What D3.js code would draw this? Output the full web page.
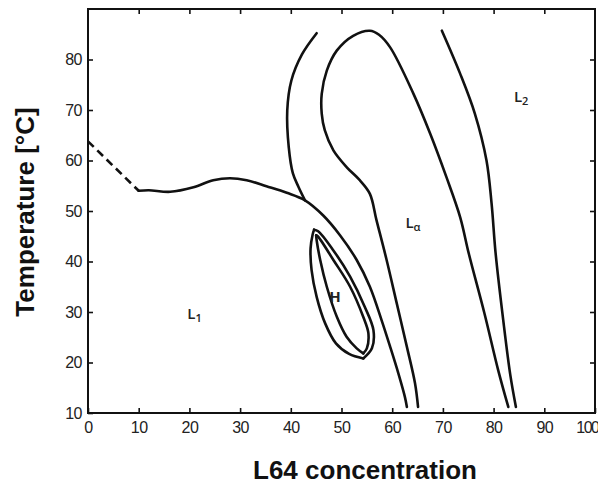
<!DOCTYPE html>
<html>
<head>
<meta charset="utf-8">
<script src="https://cdn.jsdelivr.net/npm/d3@7"></script>
<style>
  body { margin: 0; background: #fff; }
  svg { display: block; }
  .tick text { font-family: "Liberation Sans", Arial, sans-serif; font-size: 16px; fill: #222; letter-spacing: -0.5px; }
  .tick line { stroke: #111; stroke-width: 1.6; }
  .phase { fill: none; stroke: #111; stroke-width: 2.6; stroke-linejoin: round; stroke-linecap: round; }
  .region { font-family: "Open Sans", sans-serif; font-size: 15px; font-weight: 600; fill: #222; }
  .title { font-family: "Liberation Sans", Arial, sans-serif; font-size: 26px; font-weight: bold; fill: #111; }
</style>
</head>
<body>
<svg id="chart" width="598" height="484"></svg>
<script>
// axis ticks
const xTicks = [0, 10, 20, 30, 40, 50, 60, 70, 80, 90, 100];
const yTicks = [10, 20, 30, 40, 50, 60, 70, 80];
const topTicks = [10, 20, 30, 40, 50, 60, 70, 80, 90];
const rightTicks = [20, 30, 40, 50, 60, 70, 80];

// phase boundaries, [L64 %, T °C]
const dashedBoundary = [[0, 63.8], [10, 54]];
const l1Boundary = [[10, 54], [12, 54.1], [16.2, 53.8], [20.8, 54.7], [24.7, 56.1], [28, 56.5], [31.3, 56.1],
  [35.2, 54.9], [39.2, 53.6], [42.8, 52.1], [46.4, 49.1], [49.7, 45.2], [53, 40.3], [55.6, 35],
  [57.9, 28.4], [59.6, 23.1], [61.2, 17.9], [62.5, 13.2], [62.9, 11.2]];
const leftArm = [[42.8, 52.1], [41.5, 54.8], [40.4, 57.5], [39.6, 62.6], [39.3, 69.9], [40.1, 75.8],
  [42.2, 81.0], [45.1, 85.2]];
const lamellarLoop = [[65.1, 11.2], [64.5, 15.9], [62.9, 23.1], [60.9, 31.7], [58.9, 40.3], [56.9, 48.2],
  [55.6, 53.4], [53.6, 56.1], [51.0, 58.7], [48.4, 62.0], [46.7, 66.0], [46.1, 69.3], [46.1, 73.2],
  [47.1, 77.8], [49.1, 81.8], [52.3, 84.7], [55.6, 85.7], [57.4, 84.9], [59.6, 82.4], [64.2, 73.2],
  [67.5, 65.3], [70.7, 56.7], [73.4, 48.8], [75.1, 41.6], [78.2, 29.7], [80.9, 18.5], [82.9, 11.2]];
const l2Boundary = [[69.8, 85.7], [73.4, 77.2], [76.3, 69.3], [78.6, 60.0], [79.6, 51.5], [80.4, 41.6],
  [81.9, 28.4], [83.3, 17.5], [84.4, 11.2]];

// hexagonal phase loops (each side from top tip to bottom tip)
const hOuterRight = [[44.6, 46.3], [45.4, 46.0], [48.4, 42.2], [51.7, 37.0], [54.6, 31.0], [56.3, 26.4],
  [56.0, 22.8], [54.3, 20.8]];
const hOuterLeft = [[44.6, 46.3], [44.3, 45.3], [43.9, 42.6], [44.1, 38.3], [45.1, 33.0], [46.8, 27.7],
  [48.9, 23.8], [51.5, 21.7], [54.3, 20.8]];
const hInnerRight = [[45.0, 45.2], [45.4, 44.9], [48.4, 40.3], [51.7, 35.0], [54.3, 29.0], [55.3, 25.8],
  [55.0, 22.8], [54.3, 21.8]];
const hInnerLeft = [[45.0, 45.2], [45.1, 44.2], [45.8, 40.3], [47.1, 35.0], [49.1, 29.0], [51.0, 25.1],
  [53.0, 22.8], [54.3, 21.8]];

// region labels
const regionNames = ["L", "L", "L", "H"];
const regionSubs = ["1", "2", "α", ""];
const regionPos = [[19.6, 28.6], [84.0, 71.6], [62.6, 46.6], [47.6, 31.9]];

const svg = d3.select("#chart");
const x = d3.scaleLinear().domain([0, 100]).range([88, 595]);
const y = d3.scaleLinear().domain([10, 90]).range([413, 9]);

// frame
svg.append("rect")
  .attr("x", x(0)).attr("y", y(90))
  .attr("width", x(100) - x(0)).attr("height", y(10) - y(90))
  .attr("fill", "none").attr("stroke", "#111").attr("stroke-width", 2);

const bottom = svg.append("g").attr("transform", `translate(0,${y(10)})`)
  .call(d3.axisBottom(x).tickValues(xTicks).tickSize(-5).tickPadding(9));
const left = svg.append("g").attr("transform", `translate(${x(0)},0)`)
  .call(d3.axisLeft(y).tickValues(yTicks).tickSize(-5).tickPadding(6));
svg.append("g").attr("transform", `translate(0,${y(90)})`)
  .call(d3.axisTop(x).tickValues(topTicks).tickSize(-5).tickFormat(""));
svg.append("g").attr("transform", `translate(${x(100)},0)`)
  .call(d3.axisRight(y).tickValues(rightTicks).tickSize(-5).tickFormat(""));
svg.selectAll(".domain").remove();
bottom.selectAll("text").attr("dy", "0.71em");
// last label sits at the right edge
bottom.selectAll("text").filter(d => d === 100)
  .attr("text-anchor", "end").attr("x", 3).style("letter-spacing", "-1.5px");

const line = d3.line().x(d => x(d[0])).y(d => y(d[1])).curve(d3.curveCatmullRom.alpha(0.5));

svg.append("path").attr("class", "phase").attr("d", d3.line().x(d => x(d[0])).y(d => y(d[1]))(dashedBoundary))
  .attr("stroke-dasharray", "8,5").style("stroke-linecap", "butt");

[l1Boundary, leftArm, lamellarLoop, l2Boundary, hOuterRight, hOuterLeft, hInnerRight, hInnerLeft]
  .forEach(pts => {
    svg.append("path").attr("class", "phase").attr("d", line(pts));
  });

const labels = svg.selectAll(".region")
  .data(regionNames)
  .enter()
  .append("text")
  .attr("class", "region")
  .attr("x", (d, i) => x(regionPos[i][0]))
  .attr("y", (d, i) => y(regionPos[i][1]));
labels.append("tspan").text(d => d).attr("font-weight", d => d === "H" ? 700 : 600);
labels.append("tspan")
  .attr("font-size", "11px")
  .attr("dy", "3")
  .text((d, i) => regionSubs[i]);

// axis titles
svg.append("text").attr("class", "title")
  .attr("x", 365).attr("y", 479)
  .attr("text-anchor", "middle")
  .text("L64 concentration");
svg.append("text").attr("class", "title")
  .attr("transform", "translate(34,212) rotate(-90)")
  .attr("text-anchor", "middle")
  .text("Temperature [°C]");
</script>
</body>
</html>
